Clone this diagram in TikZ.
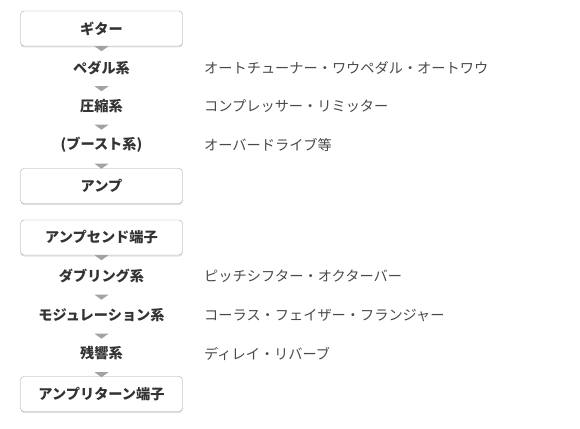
\documentclass[tikz,border=0pt]{standalone}
\usepackage{fontspec}
\setmainfont{Noto Sans CJK JP}
\usetikzlibrary{shadows}

\definecolor{textdark}{HTML}{333333}
\definecolor{textgray}{HTML}{4A4A4A}
\definecolor{boxgray}{HTML}{A8A8A8}
\definecolor{trigray}{HTML}{A2A2A2}

\begin{document}
\begin{tikzpicture}[x=1pt, y=-1pt,
    box/.style={draw=boxgray, fill=white, rounded corners=3.5pt, minimum width=162pt, minimum height=35pt,
        font=\fontsize{14.2pt}{17pt}\selectfont\bfseries, text=textdark,
        drop shadow={shadow xshift=0pt, shadow yshift=-1.5pt, opacity=0.12, fill=black}},
    stage/.style={minimum height=37pt, inner sep=0pt, font=\fontsize{14.2pt}{17pt}\selectfont\bfseries, text=textdark},
    note/.style={anchor=west, inner sep=0pt, font=\fontsize{14.2pt}{17pt}\selectfont, text=textgray},
    tri/.style={fill=trigray}]
    \useasboundingbox (0,0) rectangle (580,428);

    % send chain
    \node[box] (guitar) at (101.5,28.5) {ギター};
    \node[stage] (pedal) at (101.5,67.5) {ペダル系};
    \node[stage] (comp) at (101.5,106) {圧縮系};
    \node[stage] (boost) at (101.5,145) {(ブースト系)};
    \node[box] (amp) at (101.5,186) {アンプ};

    % loop chain
    \node[box] (send) at (101.5,237.5) {アンプセンド端子};
    \node[stage] (dbl) at (101.5,276) {ダブリング系};
    \node[stage] (mod) at (101.5,315) {モジュレーション系};
    \node[stage] (verb) at (101.5,353.5) {残響系};
    \node[box] (ret) at (101.5,394) {アンプリターン端子};

    % examples
    \coordinate (notex) at (204,0);
    \node[note] (pedalnote) at (pedal -| notex) {オートチューナー・ワウペダル・オートワウ};
    \node[note] (compnote) at (comp -| notex) {コンプレッサー・リミッター};
    \node[note] (boostnote) at (boost -| notex) {オーバードライブ等};
    \node[note] (dblnote) at (dbl -| notex) {ピッチシフター・オクターバー};
    \node[note] (modnote) at (mod -| notex) {コーラス・フェイザー・フランジャー};
    \node[note] (verbnote) at (verb -| notex) {ディレイ・リバーブ};

    % flow marks
    \foreach \a in {guitar, pedal, comp, boost, send, dbl, mod, verb}
        \fill[tri] (\a.south) ++(-7,0) -- ++(14,0) -- ++(-7,5) -- cycle;
\end{tikzpicture}
\end{document}
